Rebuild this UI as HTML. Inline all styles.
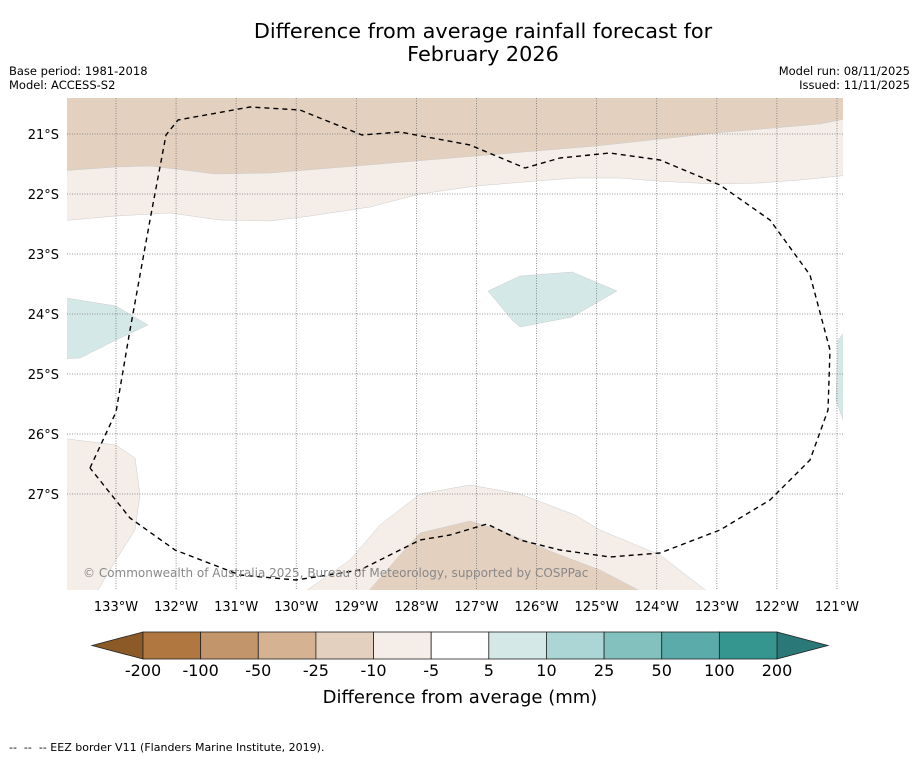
<!DOCTYPE html>
<html><head><meta charset="utf-8"><style>
body{margin:0;background:#fff;font-family:"DejaVu Sans","Liberation Sans",sans-serif}
svg text{font-family:"DejaVu Sans","Liberation Sans",sans-serif}
</style></head><body>
<svg id="c" width="919" height="758" xmlns="http://www.w3.org/2000/svg">
<text x="483" y="38" font-size="20.8" text-anchor="middle">Difference from average rainfall forecast for</text>
<text x="483" y="61" font-size="20.8" text-anchor="middle">February 2026</text>
<text x="9" y="75" font-size="11.5">Base period: 1981-2018</text>
<text x="9" y="89" font-size="11.5">Model: ACCESS-S2</text>
<text x="910" y="75" font-size="11.5" text-anchor="end">Model run: 08/11/2025</text>
<text x="910" y="89" font-size="11.5" text-anchor="end">Issued: 11/11/2025</text>
<defs><clipPath id="mc"><rect x="67" y="98" width="776" height="492"/></clipPath></defs>
<g id="map" clip-path="url(#mc)"></g>
<g id="ax"></g>
<text x="83" y="577" font-size="12" fill="#888">© Commonwealth of Australia 2025, Bureau of Meteorology, supported by COSPPac</text>
<g id="cb"></g>
<text x="460" y="703" font-size="18" text-anchor="middle">Difference from average (mm)</text>
<text x="9" y="751" font-size="11" style="white-space:pre">--  --  -- EEZ border V11 (Flanders Marine Institute, 2019).</text>
</svg>
<script>
const lonTicks=[-133,-132,-131,-130,-129,-128,-127,-126,-125,-124,-123,-122,-121];
const latTicks=[-21,-22,-23,-24,-25,-26,-27];
const cbLabels=["-200","-100","-50","-25","-10","-5","5","10","25","50","100","200"];
const cbColors=["#b07840","#c2956a","#d4b292","#e3d0bf","#f5ede8","#ffffff","#d4e8e7","#acd6d5","#83c1be","#5aaba9","#35968f"];
const X=lon=>116+(lon+133)*60.08;
const Y=lat=>134+(-21-lat)*60;
const XP=x=>-133+(x-116)/60.08, YP=y=>-21-(y-134)/60;
const toLL=a=>a.map(p=>[XP(p[0]),YP(p[1])]);
const regions=[
 ["band-dry-top","#e3d0bf",toLL([[60,92],[850,92],[850,118],[820,124],[716,133],[596,146],[476,156],[356,166],[270,173],[216,174],[150,166],[116,167],[60,171]])],
 ["band-light-top","#f5ede8",toLL([[60,171],[116,167],[150,166],[216,174],[270,173],[356,166],[476,156],[596,146],[716,133],[820,124],[850,118],[850,175],[800,180],[760,183],[716,184],[656,181],[620,178],[576,178],[536,181],[476,186],[420,194],[370,207],[310,216],[270,221],[220,220],[170,213],[116,216],[60,221]])],
 ["bottom-light","#f5ede8",toLL([[300,595],[350,560],[380,525],[420,494],[470,485],[520,494],[575,515],[600,530],[660,555],[712,595]])],
 ["bottom-tan","#e3d0bf",toLL([[365,595],[400,555],[420,533],[470,521],[500,530],[560,555],[600,570],[648,595]])],
 ["left-light","#f5ede8",toLL([[60,438],[116,445],[135,458],[140,495],[135,530],[116,560],[95,595],[60,595]])],
 ["left-wet","#d4e8e7",toLL([[60,297],[116,306],[148,325],[116,340],[80,358],[60,359]])],
 ["middle-wet","#d4e8e7",toLL([[488,291],[520,276],[572,272],[617,291],[572,317],[520,327],[512,320]])],
 ["right-wet","#d4e8e7",toLL([[850,325],[838,340],[836,400],[843,420],[850,420]])]
];
const eez=toLL([[90,468],[116,412],[130,330],[150,220],[166,135],[178,120],[250,107],[300,110],[362,135],[400,132],[470,145],[525,168],[560,158],[610,153],[660,160],[720,185],[770,220],[810,275],[830,350],[828,410],[810,460],[770,500],[720,530],[660,553],[610,557],[560,550],[520,540],[487,524],[450,535],[420,540],[390,555],[360,570],[296,580],[240,575],[175,550],[130,518],[90,468]]);
const NS="http://www.w3.org/2000/svg";
function mk(t,a,p){const e=document.createElementNS(NS,t);for(const k in a)e.setAttribute(k,a[k]);p.appendChild(e);return e;}
const map=document.getElementById('map'),ax=document.getElementById('ax'),cb=document.getElementById('cb');
regions.forEach(r=>{const e=mk('polygon',{points:r[2].map(p=>X(p[0])+','+Y(p[1])).join(' '),fill:r[1],stroke:'#ccc','stroke-width':0.5},map);

});
lonTicks.forEach(l=>{const e=mk('line',{x1:X(l),x2:X(l),y1:98,y2:590,stroke:'#777','stroke-width':0.8,'stroke-dasharray':'1,1.5'},map);


const t=mk('text',{x:X(l),y:611,'font-size':13,'text-anchor':'middle'},ax);t.textContent=(-l)+'°W';

});
latTicks.forEach(l=>{const e=mk('line',{x1:67,x2:843,y1:Y(l),y2:Y(l),stroke:'#777','stroke-width':0.8,'stroke-dasharray':'1,1.5'},map);


const t=mk('text',{x:59,y:Y(l)+5,'font-size':13,'text-anchor':'end'},ax);t.textContent=(-l)+'°S';

});
const ez=mk('polyline',{points:eez.map(p=>X(p[0])+','+Y(p[1])).join(' '),fill:'none',stroke:'#000','stroke-width':1.4,'stroke-dasharray':'5,4','stroke-linejoin':'round'},map);


const cx0=143,cw=(777-143)/cbColors.length,cy=632,ch=27;
const la=mk('polygon',{points:`92,${cy+ch/2} ${cx0},${cy} ${cx0},${cy+ch}`,fill:'#8c5a26',stroke:'#222','stroke-width':0.8},cb);


const ra=mk('polygon',{points:`828,${cy+ch/2} 777,${cy} 777,${cy+ch}`,fill:'#2a7878',stroke:'#222','stroke-width':0.8},cb);


cbColors.forEach((c,i)=>{const r=mk('rect',{x:cx0+i*cw,y:cy,width:cw,height:ch,fill:c,stroke:'#222','stroke-width':0.8},cb);

});
cbLabels.forEach((s,i)=>{const t=mk('text',{x:cx0+i*cw,y:676,'font-size':16,'text-anchor':'middle'},cb);t.textContent=s;

});
</script>
</body></html>
